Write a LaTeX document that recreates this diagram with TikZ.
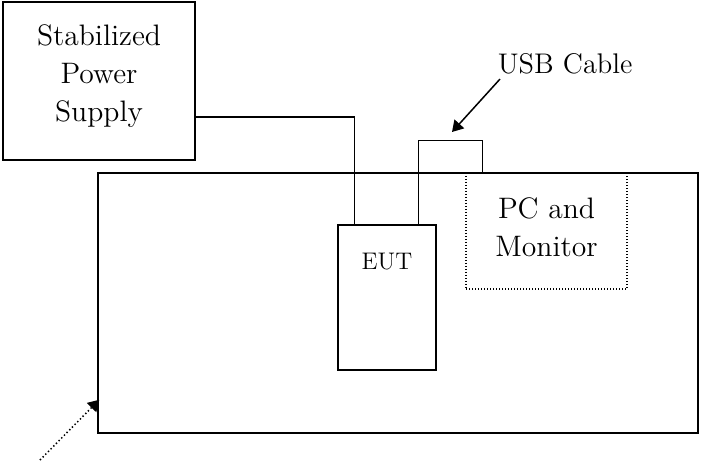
\documentclass[tikz,border=0pt]{standalone}
\usetikzlibrary{calc,arrows.meta}
\begin{document}
\begin{tikzpicture}[x=0.5pt,y=-0.5pt,
  line width=0.75pt,
  box/.style={draw,rectangle,inner sep=0pt,line width=0.75pt},
  dotbox/.style={draw,rectangle,inner sep=0pt,line width=0.75pt,dash pattern=on 0.6pt off 0.9pt},
  bigtxt/.style={align=center,inner sep=0pt,font=\fontsize{14.8}{19}\selectfont},
  smalltxt/.style={inner sep=0pt,font=\fontsize{12}{14}\selectfont},
  cable/.style={line width=0.75pt},
  pointer/.style={line width=0.75pt,-{Triangle[length=5.5pt,width=6.5pt]}}
]
\useasboundingbox (0,0) rectangle (707,461);
% table
\node[box,minimum width=300pt,minimum height=130pt] (table) at (398,303) {};
% power supply
\node[box,fill=white,minimum width=96pt,minimum height=79pt] (ps) at (99,81) {};
\node[bigtxt] (pstxt) at (99,76) {Stabilized\\Power\\Supply};
% EUT
\node[box,fill=white,minimum width=49pt,minimum height=72.5pt] (eut) at (387,297.5) {};
\node[smalltxt] (euttxt) at (387,262) {EUT};
% PC
\node[dotbox,minimum width=80.5pt,minimum height=58pt] (pc) at (546.5,231) {};
\node[bigtxt] (pctxt) at (546.5,227) {PC and\\Monitor};
% cables
\draw[cable] ($(ps.east)+(0,36)$) -| ($(eut.north west)+(17,0)$);
\draw[cable] ($(eut.north west)+(81,0)$) |- ($(pc.north west)+(17,-32)$) -- ($(pc.north west)+(17,0)$);
% USB label
\node[bigtxt,anchor=west,font=\fontsize{14.2}{19}\selectfont] (usb) at (497,64) {USB Cable};
\coordinate (usbtip) at (452,132);
\draw[pointer] ($(usb.south west)+(3,4)$) -- (usbtip);
% dotted pointer to table
\coordinate (tstart) at (40,460);
\draw[pointer,dash pattern=on 0.7pt off 1.2pt] (tstart) -- ($(table.south west)+(2,-34)$);
\end{tikzpicture}
\end{document}
